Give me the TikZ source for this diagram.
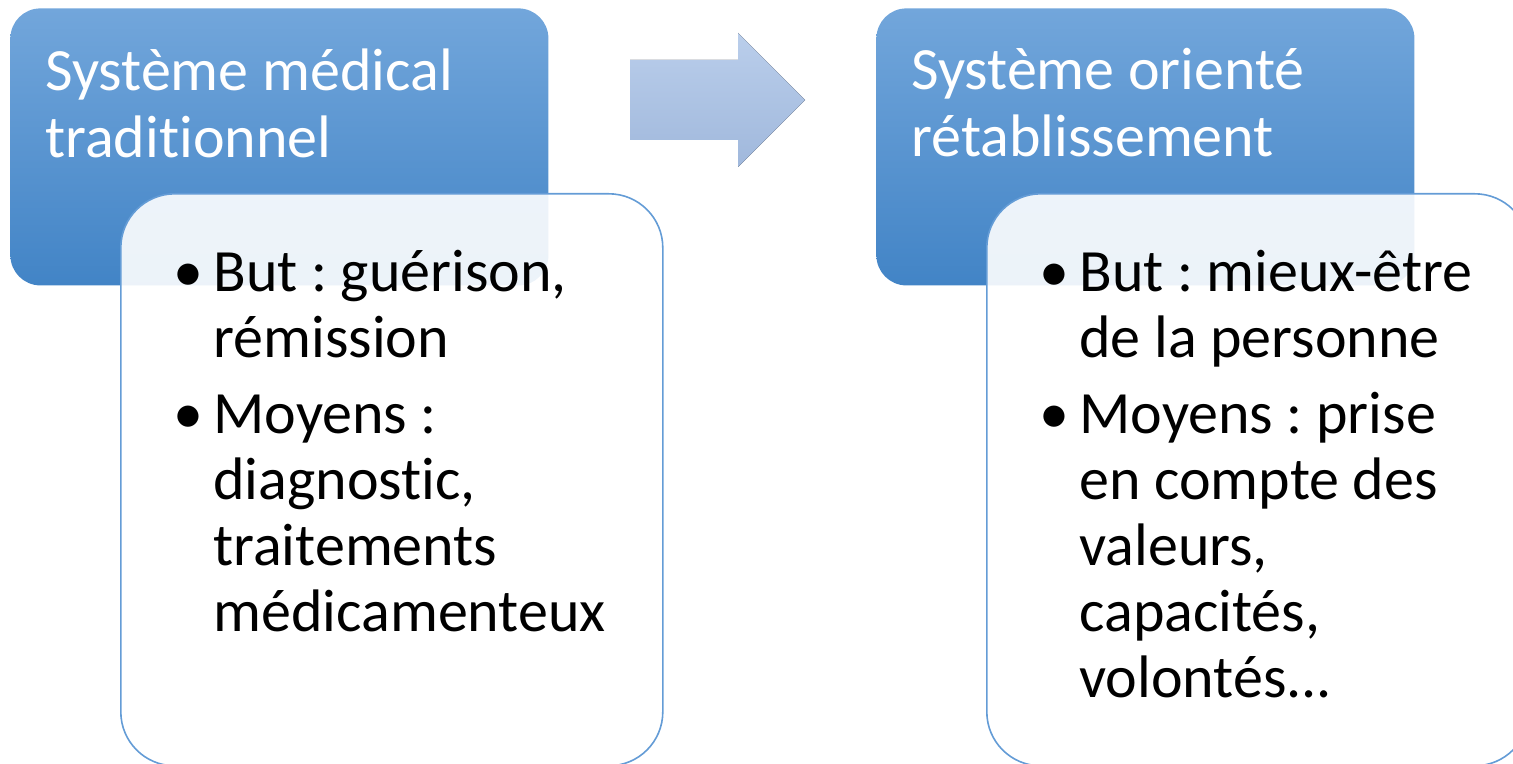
\documentclass[tikz,border=0pt]{standalone}
\usepackage{fontspec}
\setmainfont{Carlito}[Ligatures=NoCommon]
\usepackage{enumitem}
\usetikzlibrary{positioning}

\definecolor{headtop}{RGB}{114,166,219}
\definecolor{headbot}{RGB}{66,132,198}
\definecolor{arrtop}{RGB}{186,206,235}
\definecolor{arrbot}{RGB}{160,184,220}
\definecolor{listline}{RGB}{100,156,214}

\setlist[itemize]{label=\textbullet, leftmargin=20pt, labelsep=0pt, labelwidth=20pt,
  align=left, topsep=0pt, partopsep=0pt, parsep=0pt, itemsep=5pt}

\begin{document}
\begin{tikzpicture}[x=0.5pt,y=-0.5pt,
                    headbox/.style={rectangle,rounded corners=15pt,top color=headtop,bottom color=headbot,
                                    minimum width=269pt,minimum height=138.5pt,anchor=north west,inner sep=0pt},
                    listbox/.style={rectangle,rounded corners=27pt,fill=white,fill opacity=0.9,draw=listline,
                                    line width=0.8pt,minimum width=271pt,minimum height=286pt,anchor=north west},
                    headtext/.style={anchor=north west,text=white,align=left,inner sep=0pt,
                                     font=\fontsize{30}{33.5}\selectfont\frenchspacing},
                    listtext/.style={anchor=north west,text width=230pt,align=left,inner sep=0pt,
                                     font=\fontsize{30}{33}\selectfont\frenchspacing,
                                     execute at begin node={\spaceskip=0pt\xspaceskip=0pt\relax}}
]
\clip (0,0) rectangle (1513,764);

% Draw the left pair of boxes
\node [headbox] at (10,8) (head1) {};
\node [headtext] at ([shift={(35,40)}]head1.north west) (title1) {Système médical\\traditionnel};
\node [listbox] at (120,193) (box1) {};
\node [listtext] at ([shift={(53,32)}]box1.north west) (list1) {%
  \begin{itemize}
    \item But : guérison,\newline rémission
    \item Moyens :\newline diagnostic,\newline traitements\newline médicamenteux
  \end{itemize}};

% Draw the block arrow
\fill [top color=arrtop,bottom color=arrbot]
  (630,60) -- (738,60) -- (738,33) -- (805,100) -- (738,167) -- (738,140) -- (630,140) -- cycle;

% Draw the right pair of boxes
\node [headbox] at (876,8) (head2) {};
\node [headtext] at ([shift={(35,40)}]head2.north west) (title2) {Système orienté\\rétablissement};
\node [listbox] at (986,193) (box2) {};
\node [listtext] at ([shift={(53,32)}]box2.north west) (list2) {%
  \begin{itemize}
    \item But : mieux-être\newline de la personne
    \item Moyens : prise\newline en compte des\newline valeurs,\newline capacités,\newline volontés...
  \end{itemize}};

\end{tikzpicture}
\end{document}
